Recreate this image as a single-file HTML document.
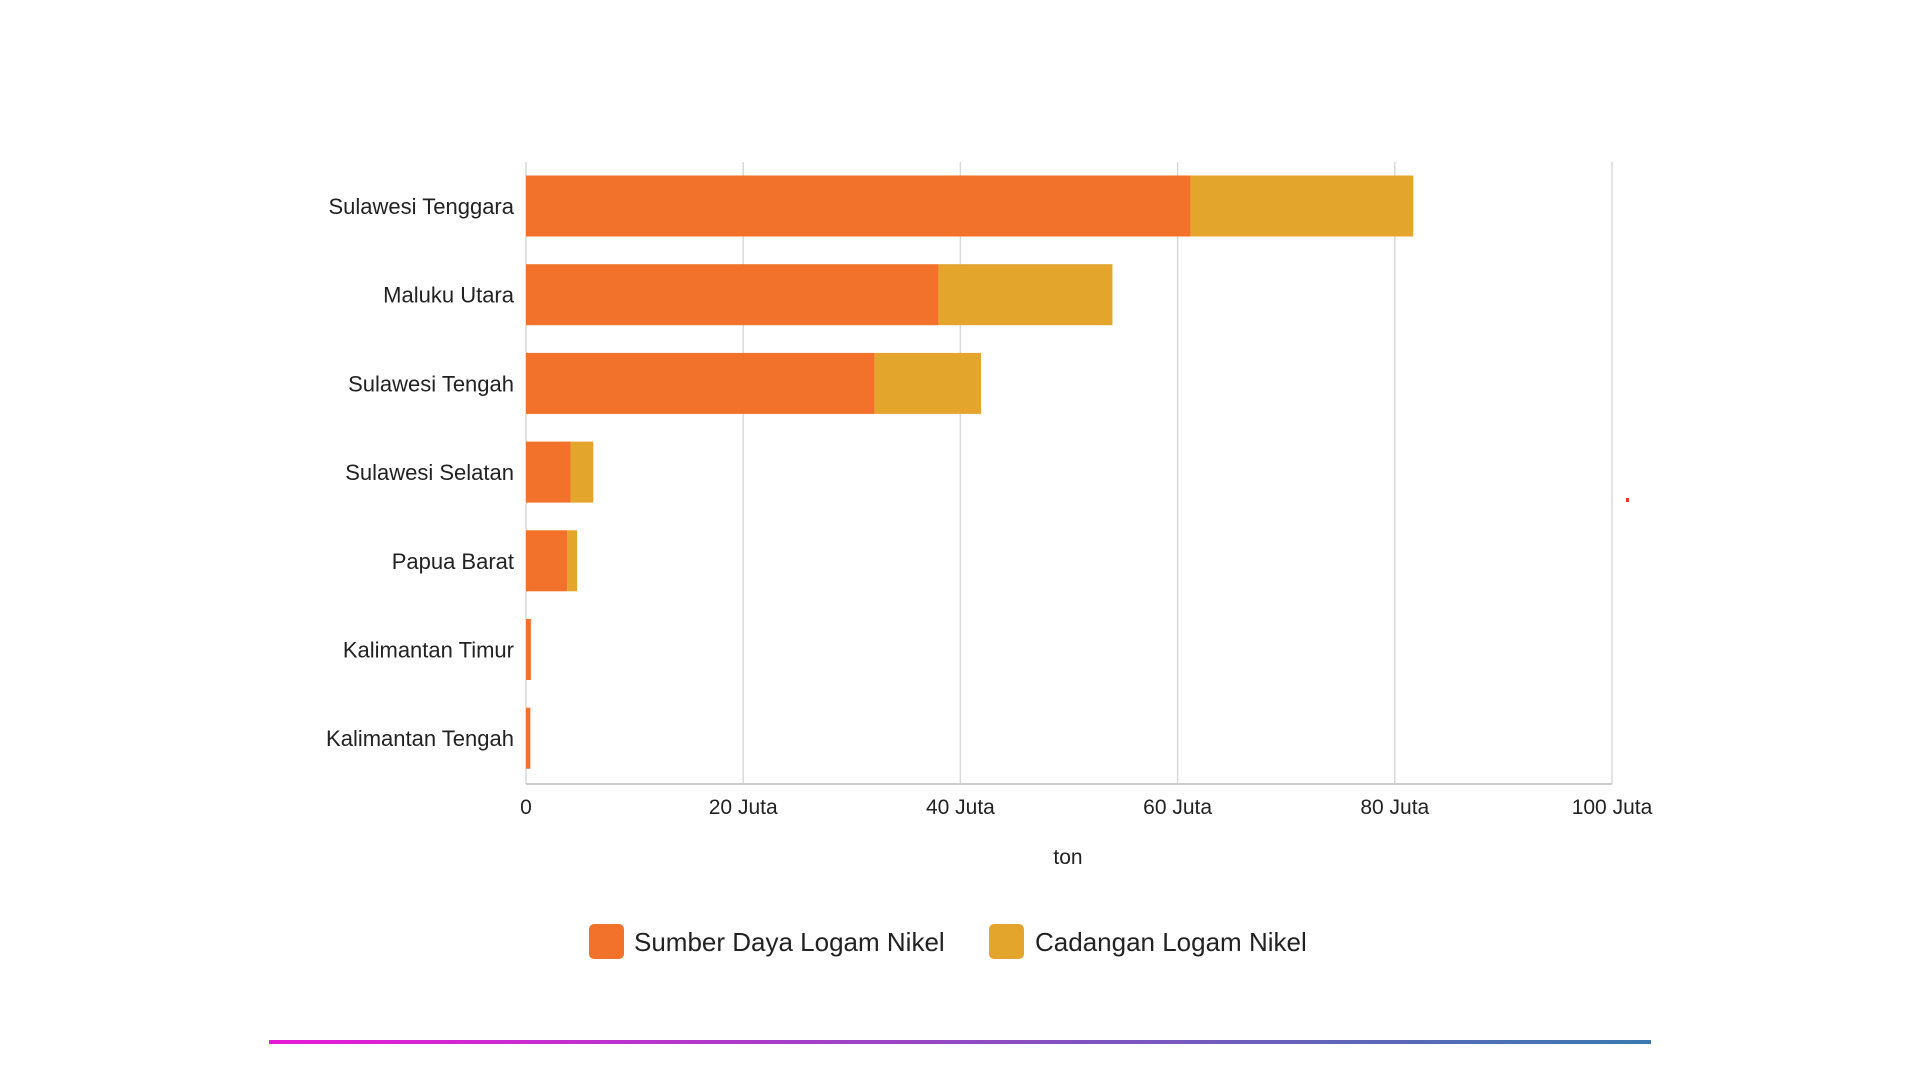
<!DOCTYPE html>
<html><head><meta charset="utf-8">
<style>
html,body{margin:0;padding:0;background:#fff;width:1920px;height:1080px;overflow:hidden;font-family:"Liberation Sans",sans-serif;}
svg text{font-family:"Liberation Sans",sans-serif;}
</style></head>
<body>
<svg width="1920" height="1080">
<defs><linearGradient id="g" x1="0" x2="1" y1="0" y2="0"><stop offset="0" stop-color="#e81ad6"/><stop offset="1" stop-color="#3a7ab0"/></linearGradient></defs>
<g id="grid"></g>
<g id="bars"></g>
<g id="labels"></g>
<text x="1068" y="864" text-anchor="middle" font-size="21" fill="#222">ton</text>
<g>
<rect x="589" y="924" width="35" height="35" rx="5" fill="#F2722B"/>
<text x="634" y="951" font-size="26" fill="#222">Sumber Daya Logam Nikel</text>
<rect x="989" y="924" width="35" height="35" rx="5" fill="#E3A52B"/>
<text x="1035" y="951" font-size="26" fill="#222">Cadangan Logam Nikel</text>
</g>
<rect x="269" y="1040" width="1382" height="4" fill="url(#g)"/>
<rect x="1626" y="498" width="3" height="4" fill="#e33"/>
</svg>
<script>
const categories=["Sulawesi Tenggara","Maluku Utara","Sulawesi Tengah","Sulawesi Selatan","Papua Barat","Kalimantan Timur","Kalimantan Tengah"];
const sumberDaya=[61.2,38.0,32.1,4.1,3.8,0.45,0.4];
const cadangan=[20.5,16.0,9.8,2.1,0.9,0.0,0.0];
const tickValues=[0,20,40,60,80,100];
const tickLabels=["0","20 Juta","40 Juta","60 Juta","80 Juta","100 Juta"];
const NS="http://www.w3.org/2000/svg";
const L=526,R=1612,T=162,B=784,xMax=100;
const x=v=>L+(v/xMax)*(R-L);
const c0=206,step=88.7,bh=61;
const yc=i=>c0+i*step;
function mk(t,a,p){const e=document.createElementNS(NS,t);for(const k in a)e.setAttribute(k,a[k]);p.appendChild(e);return e;}
const grid=document.getElementById('grid'),bars=document.getElementById('bars'),labels=document.getElementById('labels');
tickValues.forEach((v,i)=>{
 const l=mk('line',{x1:x(v),x2:x(v),y1:T,y2:B,stroke:'#d9d9d9','stroke-width':1.5},grid);
 
 
 const t=mk('text',{x:x(v),y:B+30,'text-anchor':'middle','font-size':21,fill:'#222'},labels);
 t.textContent=tickLabels[i];
 
 
});
const ax=mk('line',{x1:L,x2:R,y1:B,y2:B,stroke:'#ccc','stroke-width':2},grid);


categories.forEach((c,i)=>{
 const y=yc(i)-bh/2;
 const b1=mk('rect',{x:x(0),y:y,width:x(sumberDaya[i])-x(0),height:bh,fill:'#F2722B'},bars);
 
 
 const b2=mk('rect',{x:x(sumberDaya[i]),y:y,width:x(sumberDaya[i]+cadangan[i])-x(sumberDaya[i]),height:bh,fill:'#E3A52B'},bars);
 
 
 const t=mk('text',{x:514,y:yc(i)+8,'text-anchor':'end','font-size':22,fill:'#222'},labels);
 t.textContent=c;
 
 
});
</script>
</body></html>
